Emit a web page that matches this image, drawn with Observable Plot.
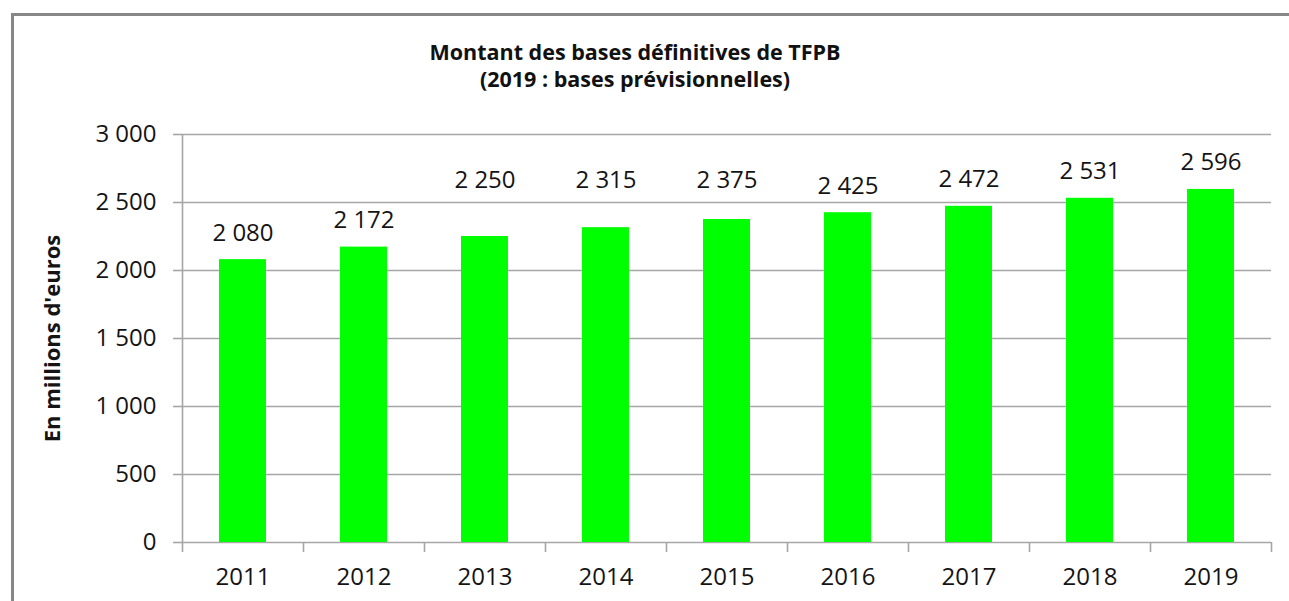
<!DOCTYPE html>
<html><head><meta charset="utf-8">
<script src="https://cdn.jsdelivr.net/npm/d3@7"></script>
<script src="https://cdn.jsdelivr.net/npm/@observablehq/plot@0.6"></script>
<style>
html,body{margin:0;padding:0;background:#fff;overflow:hidden;}
#page{position:relative;width:1289px;height:601px;font-family:"Open Sans",sans-serif;}
#frame{position:absolute;left:11px;top:13px;width:1300px;height:620px;border-left:3px solid #878787;border-top:3px solid #878787;box-sizing:border-box;pointer-events:none}
#title{position:relative;margin-left:335px;width:600px;height:100px;padding-top:38px;box-sizing:border-box;text-align:center;font-weight:bold;font-size:21.5px;line-height:27px;color:#111}
#chart svg{display:block}
</style></head>
<body><div id="page"><div id="frame"></div><div id="title"></div><div id="chart"></div></div>
<script>
const years = ["2011", "2012", "2013", "2014", "2015", "2016", "2017", "2018", "2019"];
const values = [2080, 2172, 2250, 2315, 2375, 2425, 2472, 2531, 2596];
const yTicks = [0, 500, 1000, 1500, 2000, 2500, 3000];
const titleLines = ["Montant des bases définitives de TFPB", "(2019 : bases prévisionnelles)"];
const yLabel = "En millions d'euros";

document.getElementById("title").innerHTML = titleLines.map(t => `<div>${t}</div>`).join("");

const data = years.map((year, i) => ({i, year, value: values[i]}));
const fmt = d3.formatLocale({decimal: ",", thousands: "\u00a0", grouping: [3], currency: ["", "€"]}).format(",d");

const W = 1289, H = 501, mt = 34, mb = 59, ml = 182, mr = 18;
const gray = "#a6a6a6";
const ink = "#141414";
const fs = 24;
const yPx = d3.scaleLinear().domain([0, 3000]).range([H - mb, mt]);
const gap = 19, textH = 17;
// a label that would cross a gridline is lifted just above that gridline
function clashLine(v) {
  const bottom = yPx(v) - gap, top = bottom - textH;
  return yTicks.find(t => top < yPx(t) + 3 && bottom > yPx(t) - 4);
}
const normal = data.filter(d => clashLine(d.value) === undefined);
const lifted = data.filter(d => clashLine(d.value) !== undefined);

const chart = Plot.plot({
  width: W, height: H,
  marginTop: mt, marginBottom: mb, marginLeft: ml, marginRight: mr,
  style: {fontFamily: "Open Sans", color: ink, background: "transparent"},
  x: {type: "linear", domain: [0, 9], axis: null},
  y: {domain: [0, 3000], axis: null},
  marks: [
    Plot.gridY(yTicks, {stroke: gray, strokeOpacity: 1, strokeWidth: 1.6}),
    Plot.axisY(yTicks, {tickSize: 9, tickPadding: 17, tickFormat: fmt, fontSize: fs, stroke: gray, strokeWidth: 1.6, fill: ink, label: null}),
    Plot.ruleX([0], {stroke: gray, strokeWidth: 1.6}),
    Plot.rectY(data, {x1: d => d.i, x2: d => d.i + 1, y: "value", fill: "#00ff00", insetLeft: 37, insetRight: 37}),
    Plot.axisX(d3.range(10), {tickSize: 10, tickFormat: () => "", stroke: gray, strokeWidth: 1.6, label: null}),
    Plot.axisX(data.map(d => d.i + 0.5), {tickSize: 0, tickPadding: 25, tickFormat: v => years[Math.floor(v)], fontSize: fs, fill: ink, label: null}),
    Plot.text(normal, {x: d => d.i + 0.5, y: "value", text: d => fmt(d.value), lineAnchor: "bottom", dy: -gap, fontSize: fs, fill: ink}),
    Plot.text(lifted, {x: d => d.i + 0.5, y: d => clashLine(d.value), text: d => fmt(d.value), lineAnchor: "bottom", dy: -15, fontSize: fs, fill: ink}),
    Plot.text([yLabel], {frameAnchor: "left", textAnchor: "middle", lineAnchor: "middle", dx: -130, rotate: -90, fontWeight: "bold", fontSize: 22, fill: ink})
  ]
});
document.getElementById("chart").appendChild(chart);
</script>
</body></html>
